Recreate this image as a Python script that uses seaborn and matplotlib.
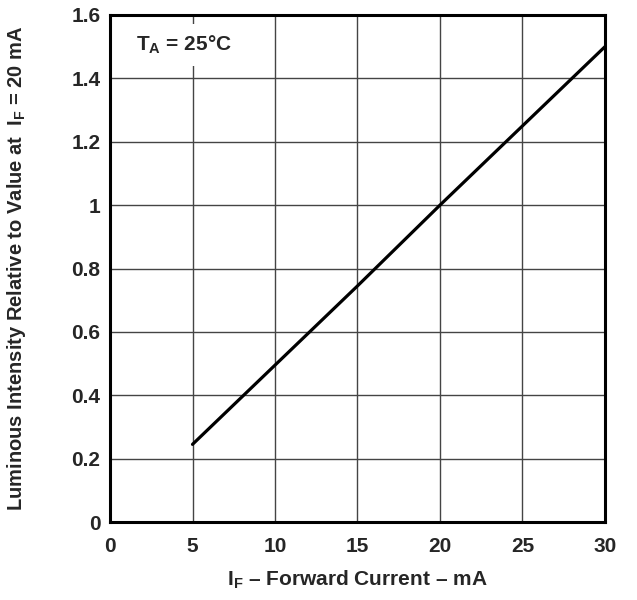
import numpy as np
import pandas as pd
import seaborn as sns
import matplotlib
matplotlib.use('Agg')
import matplotlib.pyplot as plt

# values
forward_current = [5, 10, 15, 20, 25, 30]
relative_intensity = [0.245, 0.495, 0.745, 1.0, 1.25, 1.5]
x_ticks = [0, 5, 10, 15, 20, 25, 30]
y_ticks = [0, 0.2, 0.4, 0.6, 0.8, 1.0, 1.2, 1.4, 1.6]
y_tick_labels = ['0', '0.2', '0.4', '0.6', '0.8', '1', '1.2', '1.4', '1.6']

sns.set_style('white')
plt.rcParams['font.family'] = ['Liberation Sans', 'DejaVu Sans']
plt.rcParams['font.weight'] = 'bold'
plt.rcParams['mathtext.fontset'] = 'custom'
plt.rcParams['mathtext.bf'] = 'Liberation Sans:bold'

d = pd.DataFrame({'If': forward_current, 'Iv': relative_intensity})

fig = plt.figure(figsize=(6.37, 6.0), dpi=100)
ax = fig.add_axes([0.1727, 0.13, 0.777, 0.845])
sns.lineplot(data=d, x='If', y='Iv', ax=ax, color='black', linewidth=2.3, zorder=3)

ax.set_xlim(0, 30)
ax.set_ylim(0, 1.6)
ax.set_xticks(x_ticks)
ax.set_yticks(y_ticks)
ax.set_yticklabels(y_tick_labels)
ax.tick_params(axis='x', length=0, labelsize=15, pad=11)
ax.tick_params(axis='y', length=0, labelsize=15, pad=7)
for lab in ax.get_xticklabels() + ax.get_yticklabels():
    lab.set_fontweight('bold')
ax.grid(True, color='#444444', linewidth=1.0)
for s in ax.spines.values():
    s.set_color('black')
    s.set_linewidth(2.2)

ax.set_xlabel(r'I$_\mathbf{F}$ – Forward Current – mA', fontsize=15, fontweight='bold', labelpad=9)
ax.set_ylabel(r'Luminous Intensity Relative to Value at  I$_\mathbf{F}$ = 20 mA',
              fontsize=14.5, fontweight='bold', labelpad=31)

ax.text(1.55, 1.505, r'T$_\mathbf{A}$ = 25°C', fontsize=15, fontweight='bold', va='center',
        bbox=dict(facecolor='white', edgecolor='none', pad=7), zorder=4)

fig.savefig('out.png', dpi=100)
